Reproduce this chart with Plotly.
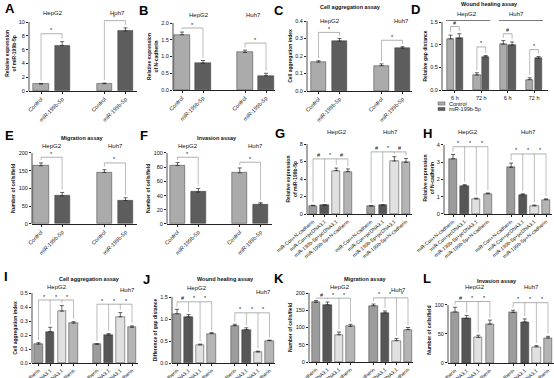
import plotly.graph_objects as go

W, H = 554, 378
FONT = "Liberation Sans, Arial, sans-serif"

# ---------------- data ----------------
cells = ["HepG2", "Huh7"]
pair_labels = ["Control", "miR-199b-5p"]
quad_labels = ["miR-Con+N-cadherin", "miR-Con+pcDNA3.1",
               "miR-199b-5p+pcDNA3.1", "miR-199b-5p+N-cadherin"]
time_labels = ["6 h", "72 h", "6 h", "72 h"]
legend_labels = ["Control", "miR-199b-5p"]

A_vals = [1.0, 6.6, 1.05, 8.7];       A_err = [0.08, 0.55, 0.1, 0.45]
B_vals = [1.65, 0.8, 1.12, 0.43];     B_err = [0.08, 0.08, 0.07, 0.07]
C_vals = [0.165, 0.285, 0.145, 0.245]; C_err = [0.008, 0.015, 0.01, 0.008]
D_vals = [1.13, 1.14, 0.33, 0.73, 1.01, 0.99, 0.23, 0.70]
D_err = [0.08, 0.10, 0.05, 0.03, 0.08, 0.07, 0.04, 0.04]
E_vals = [164, 79, 145, 66];          E_err = [8, 10, 8, 8]
F_vals = [82.5, 45, 72, 28];          F_err = [4, 5, 7, 2]
G_vals = [0.95, 1.0, 4.95, 4.85, 0.9, 1.0, 6.05, 5.9]
G_err = [0.05, 0.06, 0.3, 0.3, 0.05, 0.06, 0.5, 0.45]
H_vals = [3.2, 1.65, 0.87, 1.17, 2.7, 1.12, 0.47, 0.83]
H_err = [0.25, 0.05, 0.05, 0.05, 0.25, 0.05, 0.05, 0.05]
I_vals = [0.135, 0.225, 0.37, 0.285, 0.133, 0.2, 0.33, 0.255]
I_err = [0.01, 0.03, 0.04, 0.01, 0.005, 0.01, 0.03, 0.01]
J_vals = [1.12, 1.05, 0.41, 0.67, 0.85, 0.76, 0.25, 0.51]
J_err = [0.1, 0.05, 0.02, 0.02, 0.03, 0.04, 0.02, 0.01]
K_vals = [173, 166, 79, 103, 163, 142, 62, 94]
K_err = [5, 8, 8, 6, 5, 6, 6, 6]
L_vals = [88, 77, 44, 67, 87, 71, 28, 43]
L_err = [8, 5, 4, 7, 4, 5, 2, 3]

# significance brackets: (bar indices, height, symbols between neighbours)
A_br = [([0, 1], 8.3, ["*"]), ([2, 3], 10.2, ["*"])]
B_br = [([0, 1], 1.85, ["*"]), ([2, 3], 1.4, ["*"])]
C_br = [([0, 1], 0.335, ["*"]), ([2, 3], 0.29, ["*"])]
D_br = [([0, 1], 1.4, ["#"]), ([2, 3], 0.95, ["*"]),
        ([4, 5], 1.24, ["#"]), ([6, 7], 0.89, ["*"])]
E_br = [([0, 1], 188, ["*"]), ([2, 3], 172, ["*"])]
F_br = [([0, 1], 94, ["*"]), ([2, 3], 87, ["*"])]
G_br = [([0, 1, 2, 3], 6.3, ["#", "*", "#"]), ([4, 5, 6, 7], 7.1, ["#", "*", "#"])]
H_br = [([0, 1, 2, 3], 3.9, ["*", "*", "*"]), ([4, 5, 6, 7], 3.48, ["*", "*", "*"])]
I_br = [([0, 1, 2, 3], 0.45, ["*", "*", "*"]), ([4, 5, 6, 7], 0.42, ["*", "*", "*"])]
J_br = [([0, 1, 2, 3], 1.39, ["#", "*", "*"]), ([4, 5, 6, 7], 1.14, ["*", "*", "*"])]
K_br = [([0, 1, 2, 3], 185, ["#", "*", "*"]), ([4, 5, 6, 7], 186, ["*", "*", "*"])]
L_br = [([0, 1, 2, 3], 106, ["#", "*", "*"]), ([4, 5, 6, 7], 104, ["*", "*", "*"])]

PAIR_POS = [0, 1, 3, 4]
D_POS = [0, 1, 3, 4, 6, 7, 9, 10]
QUAD_POS = [0, 1, 2, 3, 5, 6, 7, 8]

C_CTRL = "#ababab"
C_MIR = "#5d5d5d"
Q_COLORS = ["#9c9c9c", "#565656", "#e0e0e0", "#b5b5b5"]

panels = [
    dict(L="A", v=A_vals, e=A_err, pos=PAIR_POS, col=[C_CTRL, C_MIR] * 2, lab=pair_labels * 2,
         px=(29, 137), cx=(41, 125.5), py=(91, 22), top=10, dt=2, fmt="d", w=0.72,
         yt="Relative expression<br>of miR-199b-5p", br=A_br, lxy=(3, 8), title=None,
         grp=[(53, 13), (117, 13)], ang=-45),
    dict(L="B", v=B_vals, e=B_err, pos=PAIR_POS, col=[C_CTRL, C_MIR] * 2, lab=pair_labels * 2,
         px=(173, 275), cx=(182, 266), py=(90, 23), top=2.0, dt=0.5, fmt=".1f", w=0.72,
         yt="Relative expression<br>of N-cadherin", br=B_br, lxy=(137, 10), title=None,
         grp=[(199, 15), (253, 15)], ang=-45),
    dict(L="C", v=C_vals, e=C_err, pos=PAIR_POS, col=[C_CTRL, C_MIR] * 2, lab=pair_labels * 2,
         px=(307, 412), cx=(318.5, 402.5), py=(91, 21), top=0.4, dt=0.1, fmt=".1f", w=0.72,
         yt="Cell aggregation index", br=C_br, lxy=(272, 10),
         title=("Cell aggregation assay", 350, 7), grp=[(330, 21), (401, 21)], ang=-45),
    dict(L="D", v=D_vals, e=D_err, pos=D_POS, col=[C_CTRL, C_MIR] * 4, lab=None,
         px=(442, 548), cx=(450.5, 538.5), py=(90, 22), top=1.5, dt=0.5, fmt=".1f", w=0.85,
         yt="Relative gap distance", br=D_br, lxy=(409, 9),
         title=("Wound healing assay", 489, 4), grp=[(467, 14), (516, 14)], ang=0),
    dict(L="E", v=E_vals, e=E_err, pos=PAIR_POS, col=[C_CTRL, C_MIR] * 2, lab=pair_labels * 2,
         px=(32, 137), cx=(41, 125.5), py=(224, 153), top=200, dt=50, fmt="d", w=0.72,
         yt="Number of cells/field", br=E_br, lxy=(3, 135),
         title=("Migration assay", 82, 138), grp=[(52, 146), (115, 146)], ang=-45),
    dict(L="F", v=F_vals, e=F_err, pos=PAIR_POS, col=[C_CTRL, C_MIR] * 2, lab=pair_labels * 2,
         px=(167, 272), cx=(177.5, 260.5), py=(224, 153), top=100, dt=20, fmt="d", w=0.72,
         yt="Number of cells/field", br=F_br, lxy=(138, 135),
         title=("Invasion assay", 217, 138), grp=[(188, 146), (255, 146)], ang=-45),
    dict(L="G", v=G_vals, e=G_err, pos=QUAD_POS, col=Q_COLORS * 2, lab=quad_labels * 2,
         px=(307, 412), cx=(313, 406), py=(214, 144), top=8, dt=2, fmt="d", w=0.73,
         yt="Relative expression<br>of miR-199b-5p", br=G_br, lxy=(273, 133), title=None,
         grp=[(337, 132), (390, 132)], ang=-40),
    dict(L="H", v=H_vals, e=H_err, pos=QUAD_POS, col=Q_COLORS * 2, lab=quad_labels * 2,
         px=(444, 552), cx=(453, 546), py=(214, 145), top=4, dt=1, fmt="d", w=0.73,
         yt="Relative expression<br>of N-cadherin", br=H_br, lxy=(421, 134), title=None,
         grp=[(468, 132), (528, 132)], ang=-40),
    dict(L="I", v=I_vals, e=I_err, pos=QUAD_POS, col=Q_COLORS * 2, lab=quad_labels * 2,
         px=(32, 138), cx=(38.5, 132), py=(363, 293), top=0.5, dt=0.1, fmt=".1f", w=0.73,
         yt="Cell aggregation index", br=I_br, lxy=(2, 276),
         title=("Cell aggregation assay", 89, 279), grp=[(57, 287), (127, 290)], ang=-40),
    dict(L="J", v=J_vals, e=J_err, pos=QUAD_POS, col=Q_COLORS * 2, lab=quad_labels * 2,
         px=(172, 275), cx=(177, 269.5), py=(363, 297), top=1.5, dt=0.5, fmt=".1f", w=0.73,
         yt="Difference of gap distance", br=J_br, lxy=(141, 279),
         title=("Wound healing assay", 225, 279), grp=[(197, 288), (263, 292)], ang=-40),
    dict(L="K", v=K_vals, e=K_err, pos=QUAD_POS, col=Q_COLORS * 2, lab=quad_labels * 2,
         px=(309, 413), cx=(316, 408), py=(362, 293), top=200, dt=50, fmt="d", w=0.73,
         yt="Number of cells/field", br=K_br, lxy=(272, 278),
         title=("Migration assay", 365, 279), grp=[(340, 287), (398, 290)], ang=-40),
    dict(L="L", v=L_vals, e=L_err, pos=QUAD_POS, col=Q_COLORS * 2, lab=quad_labels * 2,
         px=(448, 554), cx=(455, 548), py=(363, 305), top=100, dt=50, fmt="d", w=0.73,
         yt="Number of cells/field", br=L_br, lxy=(421, 278),
         title=("Invasion assay", 497, 281), grp=[(475, 287), (531, 287)], ang=-40),
]

fig = go.Figure()
shapes, annots = [], []
layout = {}
LINE = "#222222"
BRC = "#7a7a7a"


def px2x(x):
    return x / W


def px2y(y):
    return 1 - y / H


for k, p in enumerate(panels, start=1):
    xs = "" if k == 1 else str(k)
    xr, yr = "x" + xs, "y" + xs
    pos = p["pos"]
    # x range from pixel geometry
    unit = (p["cx"][1] - p["cx"][0]) / (pos[-1] - pos[0])
    xlo = pos[0] - (p["cx"][0] - p["px"][0]) / unit
    xhi = pos[-1] + (p["px"][1] - p["cx"][1]) / unit
    # y range: include brackets
    y0p, ytp = p["py"]
    bmax = max(b[1] for b in p["br"])
    rmax = max(p["top"], bmax * 1.07)
    ytop_px = y0p - (y0p - ytp) * rmax / p["top"]

    fig.add_trace(go.Bar(
        x=pos, y=p["v"], xaxis=xr, yaxis=yr, width=p["w"],
        marker=dict(color=p["col"], line=dict(color="#3a3a3a", width=0.5)),
        error_y=dict(type="data", array=p["e"], arrayminus=[0] * len(p["e"]),
                     symmetric=False, color=LINE, thickness=0.7, width=2),
        showlegend=False, hoverinfo="skip"))

    if p["lab"] is not None:
        tv, tt = pos, p["lab"]
        tfs = 5.5 if len(set(p["lab"])) == 2 else 5
    else:
        tv = [(pos[i] + pos[i + 1]) / 2 for i in range(0, len(pos), 2)]
        tt = time_labels
        tfs = 5.5
    layout["xaxis" + xs] = dict(
        domain=[px2x(p["px"][0]), px2x(p["px"][1])], anchor=yr, range=[xlo, xhi],
        automargin=False,
        showline=True, linecolor=LINE, linewidth=0.8, showgrid=False, zeroline=False,
        tickmode="array", tickvals=tv, ticktext=tt, tickangle=p["ang"],
        ticks="outside", ticklen=2, tickwidth=0.6, tickcolor=LINE,
        tickfont=dict(size=tfs, family=FONT, color="#111"))
    layout["yaxis" + xs] = dict(
        domain=[px2y(y0p), px2y(ytop_px)], anchor=xr, range=[0, rmax],
        automargin=False,
        showline=False, showgrid=False, zeroline=False,
        tickmode="linear", tick0=0, dtick=p["dt"], tickformat=p["fmt"],
        ticks="outside", ticklen=2, tickwidth=0.6, tickcolor=LINE,
        tickfont=dict(size=5.5, family=FONT, color="#111"),
        title=dict(text="<b>" + p["yt"] + "</b>", font=dict(size=5, family=FONT, color="#111"),
                   standoff=2))
    # y axis line up to top tick
    shapes.append(dict(type="line", xref=xr + " domain", yref=yr, x0=0, x1=0, y0=0, y1=p["top"],
                       line=dict(color=LINE, width=0.8)))
    # significance brackets
    span = rmax
    for idx, h, syms in p["br"]:
        xs_b = [pos[i] for i in idx]
        shapes.append(dict(type="line", xref=xr, yref=yr, x0=xs_b[0], x1=xs_b[-1], y0=h, y1=h,
                           line=dict(color=BRC, width=0.6)))
        for i in idx:
            yb = p["v"][i] + p["e"][i] + 0.04 * span
            shapes.append(dict(type="line", xref=xr, yref=yr, x0=pos[i], x1=pos[i], y0=yb, y1=h,
                               line=dict(color=BRC, width=0.5)))
        for s, (a, b) in zip(syms, zip(idx[:-1], idx[1:])):
            annots.append(dict(x=(pos[a] + pos[b]) / 2, y=h, xref=xr, yref=yr, text=s,
                               showarrow=False, yanchor="bottom", yshift=-1.5,
                               font=dict(size=5.5, family=FONT, color="#111")))
    # panel letter
    annots.append(dict(x=px2x(p["lxy"][0]), y=px2y(p["lxy"][1]), xref="paper", yref="paper",
                       text="<b>" + p["L"] + "</b>", showarrow=False, xanchor="left", yanchor="middle",
                       font=dict(size=13, family=FONT, color="#000")))
    # panel title
    if p["title"]:
        t, tx, ty = p["title"]
        annots.append(dict(x=px2x(tx), y=px2y(ty), xref="paper", yref="paper", text="<b>" + t + "</b>",
                           showarrow=False, xanchor="center", yanchor="middle",
                           font=dict(size=5.5, family=FONT, color="#111")))
    # cell line labels
    for name, (gx, gy) in zip(cells, p["grp"]):
        annots.append(dict(x=px2x(gx), y=px2y(gy), xref="paper", yref="paper", text=name,
                           showarrow=False, xanchor="center", yanchor="middle",
                           font=dict(size=6, family=FONT, color="#111")))
    if p["L"] == "D":
        # underlines of cell line labels
        for g in range(2):
            shapes.append(dict(type="line", xref=xr, yref="paper",
                               x0=pos[4 * g] - 0.5, x1=pos[4 * g + 3] + 0.5,
                               y0=px2y(20.5), y1=px2y(20.5), line=dict(color=LINE, width=0.6)))
        # legend
        for j, (lab, colr) in enumerate(zip(legend_labels, [C_CTRL, C_MIR])):
            yy = 103.5 + j * 5.5
            shapes.append(dict(type="rect", xref="paper", yref="paper",
                               x0=px2x(438), x1=px2x(445), y0=px2y(yy + 1.6), y1=px2y(yy - 1.6),
                               fillcolor=colr, line=dict(color="#3a3a3a", width=0.4)))
            annots.append(dict(x=px2x(447), y=px2y(yy), xref="paper", yref="paper", text=lab,
                               showarrow=False, xanchor="left", yanchor="middle",
                               font=dict(size=5.5, family=FONT, color="#111")))

fig.update_layout(
    width=W, height=H, margin=dict(l=0, r=0, t=0, b=0, autoexpand=False),
    paper_bgcolor="white", plot_bgcolor="white", showlegend=False,
    bargap=0, font=dict(family=FONT, size=6, color="#111"),
    shapes=shapes, annotations=annots, **layout)

fig.write_html("out.html", config={"displayModeBar": False},
               post_script="document.body.style.margin='0';document.body.style.padding='0';"
                           "document.body.style.overflow='hidden';")
